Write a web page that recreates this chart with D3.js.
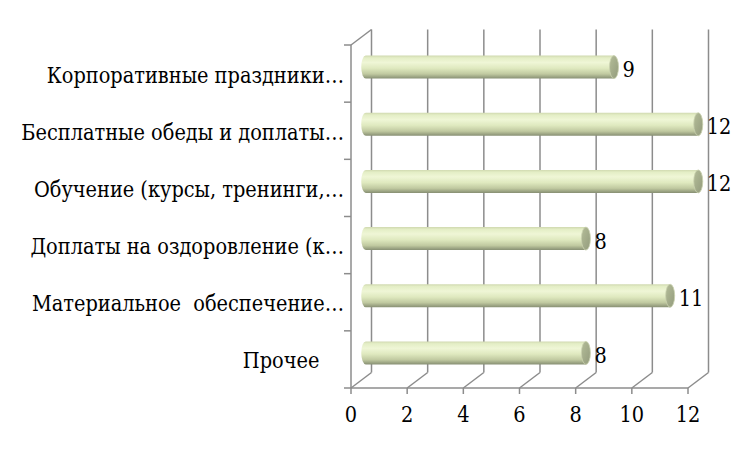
<!DOCTYPE html>
<html lang="ru">

<head>
    <meta charset="UTF-8">
    <title>Bar chart</title>
    <script src="https://d3js.org/d3.v7.min.js"></script>
    <style>
        body { margin: 0; background: #ffffff; }
        text { font-family: "DejaVu Serif", serif; font-stretch: condensed; fill: #000; }
    </style>
</head>

<body>
    <div id="chart"></div>
    <script>

        // data, top to bottom as in the picture
        const categories = [
            "Корпоративные праздники…",
            "Бесплатные обеды и доплаты…",
            "Обучение (курсы, тренинги,…",
            "Доплаты на оздоровление (к…",
            "Материальное  обеспечение…",
            "Прочее    "
        ];
        const values = [9, 12, 12, 8, 11, 8];
        const ticks = [0, 2, 4, 6, 8, 10, 12];

        const width = 750, height = 450;
        const fontSize = 21.5;

        // front plane of the 3d box and the depth shift to the back wall
        const front = { left: 351, right: 688, top: 45, bottom: 388 };
        const depth = { dx: 20.5, dy: -15.5 };
        const gridColor = "#8c8c8c";

        const svg = d3.select("#chart")
            .append("svg")
            .attr("width", width)
            .attr("height", height);

        const x = d3.scaleLinear()
            .domain([0, 12])
            .range([front.left, front.right]);

        const y = d3.scaleBand()
            .domain(categories)
            .range([front.top, front.bottom]);

        // gradient for the cylinders
        const defs = svg.append("defs");
        const grad = defs.append("linearGradient")
            .attr("id", "cyl")
            .attr("x1", 0).attr("y1", 0).attr("x2", 0).attr("y2", 1);
        grad.append("stop").attr("offset", "0%").attr("stop-color", "#d0d9b0");
        grad.append("stop").attr("offset", "10%").attr("stop-color", "#e4eec6");
        grad.append("stop").attr("offset", "30%").attr("stop-color", "#eff6d6");
        grad.append("stop").attr("offset", "55%").attr("stop-color", "#dfe9bf");
        grad.append("stop").attr("offset", "80%").attr("stop-color", "#c0c9a0");
        grad.append("stop").attr("offset", "100%").attr("stop-color", "#878f73");

        const capGrad = defs.append("linearGradient")
            .attr("id", "cap")
            .attr("x1", 0).attr("y1", 0).attr("x2", 1).attr("y2", 1);
        capGrad.append("stop").attr("offset", "0%").attr("stop-color", "#b4bd98");
        capGrad.append("stop").attr("offset", "100%").attr("stop-color", "#939b7d");

        const grid = svg.append("g")
            .attr("stroke", gridColor)
            .attr("stroke-width", 1.5)
            .attr("fill", "none");

        // back wall vertical grid lines
        grid.selectAll(".vgrid")
            .data(ticks)
            .join("line")
            .attr("x1", d => x(d) + depth.dx)
            .attr("x2", d => x(d) + depth.dx)
            .attr("y1", front.top + depth.dy)
            .attr("y2", front.bottom + depth.dy);

        // floor diagonals
        grid.selectAll(".floor")
            .data(ticks)
            .join("line")
            .attr("x1", d => x(d))
            .attr("x2", d => x(d) + depth.dx)
            .attr("y1", front.bottom)
            .attr("y2", front.bottom + depth.dy);

        // front bottom edge + ticks
        grid.append("line")
            .attr("x1", x(0)).attr("x2", x(12))
            .attr("y1", front.bottom).attr("y2", front.bottom);
        grid.selectAll(".xtick")
            .data(ticks)
            .join("line")
            .attr("x1", d => x(d)).attr("x2", d => x(d))
            .attr("y1", front.bottom).attr("y2", front.bottom + 6);

        // left wall: front vertical, top diagonal, ticks
        grid.append("line")
            .attr("x1", front.left).attr("x2", front.left)
            .attr("y1", front.top).attr("y2", front.bottom);
        grid.append("line")
            .attr("x1", front.left).attr("x2", front.left + depth.dx)
            .attr("y1", front.top).attr("y2", front.top + depth.dy);
        const bounds = categories.map(c => y(c)).concat([front.bottom]);
        grid.selectAll(".ytick")
            .data(bounds)
            .join("line")
            .attr("x1", front.left - 7).attr("x2", front.left)
            .attr("y1", d => d).attr("y2", d => d);

        // tick labels
        svg.selectAll(".xlab")
            .data(ticks)
            .join("text")
            .attr("x", d => x(d))
            .attr("y", 422)
            .attr("text-anchor", "middle")
            .attr("font-size", fontSize)
            .text(d => d);

        // category labels
        svg.selectAll(".ylab")
            .data(categories)
            .join("text")
            .attr("x", front.left - 7)
            .attr("y", d => y(d) + y.bandwidth() / 2 + 9)
            .attr("text-anchor", "end")
            .attr("font-size", fontSize)
            .style("white-space", "pre")
            .text(d => d);

        // cylinders, drawn at mid depth
        const barH = 23, rx = 4.5;
        const midX = depth.dx / 2;
        const cy = d => y(d) + y.bandwidth() / 2 - 6.5;

        const bars = svg.selectAll(".bar")
            .data(categories.map((c, i) => ({ c: c, v: values[i] })))
            .join("g");

        bars.append("path")
            .attr("d", d => {
                const x0 = x(0) + midX + rx, x1 = x(d.v) + midX;
                const t = cy(d.c) - barH / 2, b = cy(d.c) + barH / 2;
                return `M${x1},${t} L${x0},${t} A${rx},${barH / 2} 0 0 0 ${x0},${b} L${x1},${b} Z`;
            })
            .attr("fill", "url(#cyl)");

        bars.append("ellipse")
            .attr("cx", d => x(d.v) + midX)
            .attr("cy", d => cy(d.c))
            .attr("rx", rx)
            .attr("ry", barH / 2)
            .attr("fill", "url(#cap)")
            .attr("stroke", "#c9d1af")
            .attr("stroke-width", 0.8);

        // value labels
        bars.append("text")
            .attr("x", d => x(d.v) + midX + rx + 4)
            .attr("y", d => cy(d.c) + 10)
            .attr("font-size", fontSize)
            .text(d => d.v);

    </script>
</body>

</html>
